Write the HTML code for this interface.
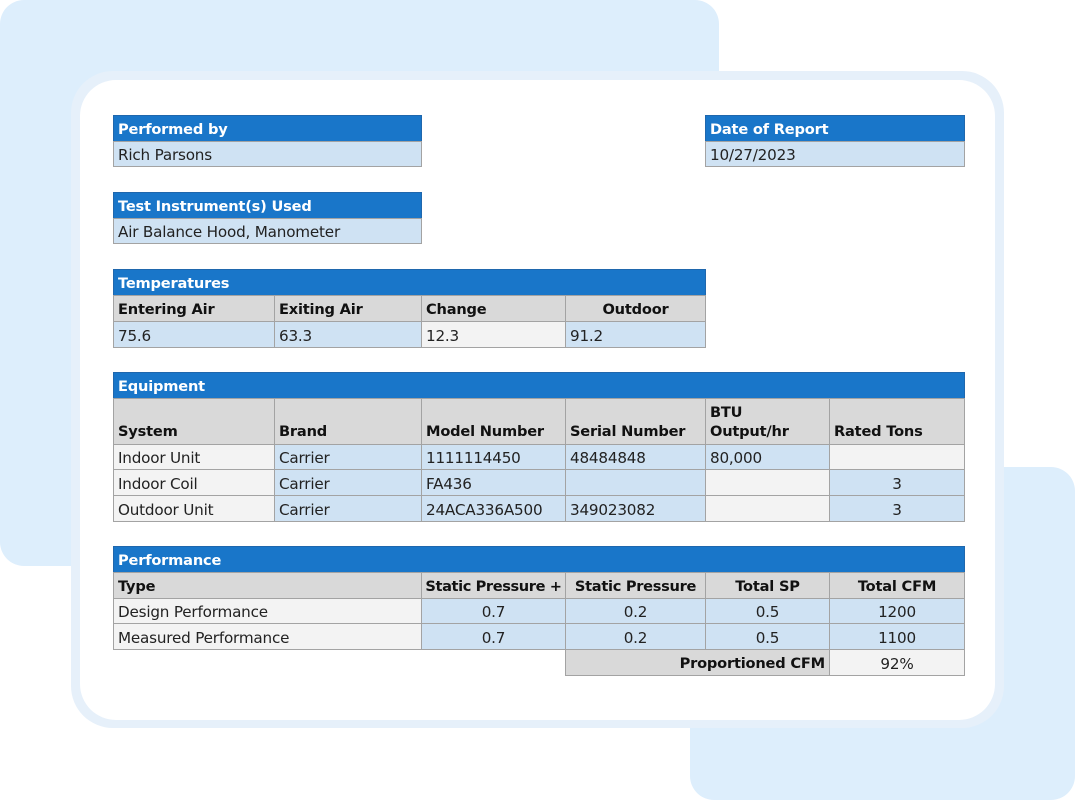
<!DOCTYPE html>
<html><head><meta charset="utf-8"><style>
body{margin:0;width:1075px;height:800px;position:relative;overflow:hidden;background:#fff;font-family:"DejaVu Sans","Liberation Sans",sans-serif;}
.bg1{position:absolute;left:0;top:0;width:719px;height:566px;background:#ddeefc;border-radius:24px;}
.bg2{position:absolute;left:690px;top:467px;width:385px;height:333px;background:#ddeefc;border-radius:24px;}
.halo{position:absolute;left:71px;top:71px;width:933px;height:657px;background:#e6f0fa;border-radius:42px;}
.card{position:absolute;left:80px;top:80px;width:915px;height:640px;background:#fff;border-radius:36px;}
.c{position:absolute;box-sizing:border-box;border:1px solid #a3a3a3;padding:2px 4px 0 4px;font-size:15.2px;color:#222;display:flex;align-items:center;white-space:nowrap;overflow:hidden;letter-spacing:-0.2px;}
.h{background:#1976c9;color:#fff;font-weight:bold;border-color:#1f67ad;font-size:14.6px;}
.g{background:#d9d9d9;font-weight:bold;color:#111;font-size:14.6px;}
.b{background:#cfe2f3;}
.l{background:#f3f3f3;}
.ctr{justify-content:center;}
.r{justify-content:flex-end;}
.bot{align-items:flex-end;padding-bottom:3px;line-height:19px;}
</style></head><body>
<div class="bg1"></div><div class="bg2"></div><div class="halo"></div><div class="card"></div>

<div class="c h" style="left:113px;top:115px;width:309px;height:27px">Performed by</div>
<div class="c b" style="left:113px;top:141px;width:309px;height:26px">Rich Parsons</div>
<div class="c h" style="left:705px;top:115px;width:260px;height:27px">Date of Report</div>
<div class="c b" style="left:705px;top:141px;width:260px;height:26px">10/27/2023</div>

<div class="c h" style="left:113px;top:192px;width:309px;height:27px">Test Instrument(s) Used</div>
<div class="c b" style="left:113px;top:218px;width:309px;height:26px">Air Balance Hood, Manometer</div>

<div class="c h" style="left:113px;top:269px;width:593px;height:27px">Temperatures</div>
<div class="c g" style="left:113px;top:295px;width:162px;height:27px">Entering Air</div>
<div class="c g" style="left:274px;top:295px;width:148px;height:27px">Exiting Air</div>
<div class="c g" style="left:421px;top:295px;width:145px;height:27px">Change</div>
<div class="c g ctr" style="left:565px;top:295px;width:141px;height:27px">Outdoor</div>
<div class="c b" style="left:113px;top:321px;width:162px;height:27px">75.6</div>
<div class="c b" style="left:274px;top:321px;width:148px;height:27px">63.3</div>
<div class="c l" style="left:421px;top:321px;width:145px;height:27px">12.3</div>
<div class="c b" style="left:565px;top:321px;width:141px;height:27px">91.2</div>

<div class="c h" style="left:113px;top:372px;width:852px;height:27px">Equipment</div>
<div class="c g bot" style="left:113px;top:398px;width:162px;height:47px">System</div>
<div class="c g bot" style="left:274px;top:398px;width:148px;height:47px">Brand</div>
<div class="c g bot" style="left:421px;top:398px;width:145px;height:47px">Model Number</div>
<div class="c g bot" style="left:565px;top:398px;width:141px;height:47px">Serial Number</div>
<div class="c g bot" style="left:705px;top:398px;width:125px;height:47px;white-space:normal">BTU<br>Output/hr</div>
<div class="c g bot" style="left:829px;top:398px;width:136px;height:47px">Rated Tons</div>

<div class="c l" style="left:113px;top:444px;width:162px;height:26px">Indoor Unit</div>
<div class="c b" style="left:274px;top:444px;width:148px;height:26px">Carrier</div>
<div class="c b" style="left:421px;top:444px;width:145px;height:26px">1111114450</div>
<div class="c b" style="left:565px;top:444px;width:141px;height:26px">48484848</div>
<div class="c b" style="left:705px;top:444px;width:125px;height:26px">80,000</div>
<div class="c l" style="left:829px;top:444px;width:136px;height:26px"></div>

<div class="c l" style="left:113px;top:469px;width:162px;height:27px">Indoor Coil</div>
<div class="c b" style="left:274px;top:469px;width:148px;height:27px">Carrier</div>
<div class="c b" style="left:421px;top:469px;width:145px;height:27px">FA436</div>
<div class="c b" style="left:565px;top:469px;width:141px;height:27px"></div>
<div class="c l" style="left:705px;top:469px;width:125px;height:27px"></div>
<div class="c b ctr" style="left:829px;top:469px;width:136px;height:27px">3</div>

<div class="c l" style="left:113px;top:495px;width:162px;height:27px">Outdoor Unit</div>
<div class="c b" style="left:274px;top:495px;width:148px;height:27px">Carrier</div>
<div class="c b" style="left:421px;top:495px;width:145px;height:27px">24ACA336A500</div>
<div class="c b" style="left:565px;top:495px;width:141px;height:27px">349023082</div>
<div class="c l" style="left:705px;top:495px;width:125px;height:27px"></div>
<div class="c b ctr" style="left:829px;top:495px;width:136px;height:27px">3</div>

<div class="c h" style="left:113px;top:546px;width:852px;height:27px">Performance</div>
<div class="c g" style="left:113px;top:572px;width:309px;height:27px">Type</div>
<div class="c g ctr" style="left:421px;top:572px;width:145px;height:27px;padding:2px 0 0 0;letter-spacing:-0.4px">Static Pressure +</div>
<div class="c g ctr" style="left:565px;top:572px;width:141px;height:27px;letter-spacing:-0.3px">Static Pressure</div>
<div class="c g ctr" style="left:705px;top:572px;width:125px;height:27px">Total SP</div>
<div class="c g ctr" style="left:829px;top:572px;width:136px;height:27px">Total CFM</div>

<div class="c l" style="left:113px;top:598px;width:309px;height:26px">Design Performance</div>
<div class="c b ctr" style="left:421px;top:598px;width:145px;height:26px">0.7</div>
<div class="c b ctr" style="left:565px;top:598px;width:141px;height:26px">0.2</div>
<div class="c b ctr" style="left:705px;top:598px;width:125px;height:26px">0.5</div>
<div class="c b ctr" style="left:829px;top:598px;width:136px;height:26px">1200</div>

<div class="c l" style="left:113px;top:623px;width:309px;height:27px">Measured Performance</div>
<div class="c b ctr" style="left:421px;top:623px;width:145px;height:27px">0.7</div>
<div class="c b ctr" style="left:565px;top:623px;width:141px;height:27px">0.2</div>
<div class="c b ctr" style="left:705px;top:623px;width:125px;height:27px">0.5</div>
<div class="c b ctr" style="left:829px;top:623px;width:136px;height:27px">1100</div>

<div class="c g r" style="left:565px;top:649px;width:265px;height:27px">Proportioned CFM</div>
<div class="c l ctr" style="left:829px;top:649px;width:136px;height:27px">92%</div>
</body></html>
